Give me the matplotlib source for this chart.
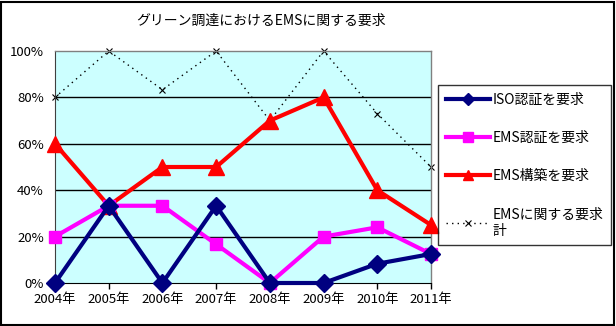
import matplotlib
matplotlib.use("Agg")
import matplotlib.pyplot as plt
from matplotlib.patches import Rectangle

plt.rcParams['font.family'] = ['Noto Sans CJK JP', 'DejaVu Sans']

years = ['2004年', '2005年', '2006年', '2007年', '2008年', '2009年', '2010年', '2011年']
iso_cert = [0, 33.3, 0, 33.3, 0, 0, 8.3, 12.5]
ems_cert = [20, 33.3, 33.3, 16.7, 0, 20, 24, 12.5]
ems_build = [60, 33.3, 50, 50, 70, 80, 40, 25]
ems_total = [80, 100, 83.3, 100, 70, 100, 73, 50]
labels = ['ISO認証を要求', 'EMS認証を要求', 'EMS構築を要求', 'EMSに関する要求\n計']
yticks = [0, 20, 40, 60, 80, 100]

W, H = 616, 326
fig = plt.figure(figsize=(W/100, H/100), dpi=100)
fig.patch.set_facecolor('white')
fig.add_artist(Rectangle((1/W, 1/H), 1-3/W, 1-3/H, transform=fig.transFigure,
                         fill=False, edgecolor='black', linewidth=1.5))

ax = fig.add_axes([55/W, 1-283/H, (431-55)/W, (283-51)/H])
ax.set_facecolor('#CCFFFF')
x = list(range(len(years)))

l1, = ax.plot(x, iso_cert, color='#000080', lw=3, marker='D', ms=9, clip_on=False, zorder=5)
l2, = ax.plot(x, ems_cert, color='#FF00FF', lw=3, marker='s', ms=9, clip_on=False, zorder=4)
l3, = ax.plot(x, ems_build, color='#FF0000', lw=3, marker='^', ms=11, clip_on=False, zorder=3)
l4, = ax.plot(x, ems_total, color='black', lw=1, ls=(0, (1, 3)), marker='x', ms=4, mew=0.8,
              clip_on=False, zorder=2)

ax.set_xlim(0, len(years)-1)
ax.set_ylim(0, 100)
ax.set_yticks(yticks)
ax.set_yticklabels([f'{v}%' for v in yticks])
ax.set_xticks(x)
ax.set_xticklabels(years)
for v in yticks[1:-1]:
    ax.axhline(v, color='black', lw=1, zorder=1)
for s in ['top', 'right']:
    ax.spines[s].set_color('#808080')
    ax.spines[s].set_linewidth(1)
ax.spines['left'].set_color('#404040')
ax.spines['bottom'].set_color('black')
ax.tick_params(axis='both', labelsize=9.5, width=1, colors='black', direction='out')
ax.tick_params(axis='x', length=4, pad=3)
ax.tick_params(axis='y', length=0, pad=8)

fig.text(261/W, 1-21/H, 'グリーン調達におけるEMSに関する要求', ha='center', va='center', fontsize=10)

leg = fig.legend([l1, l2, l3, l4], labels, loc='upper left',
                 bbox_to_anchor=(438/W, 1-85/H), fontsize=10, frameon=True,
                 fancybox=False, edgecolor='black', handlelength=3.2, handletextpad=0.2,
                 labelspacing=1.75, borderpad=0.55, borderaxespad=0)
leg.get_frame().set_linewidth(1)
for h, s in zip(leg.legend_handles, [6, 7, 7, 4]):
    h.set_markersize(s)

fig.savefig('out.png', dpi=100)
